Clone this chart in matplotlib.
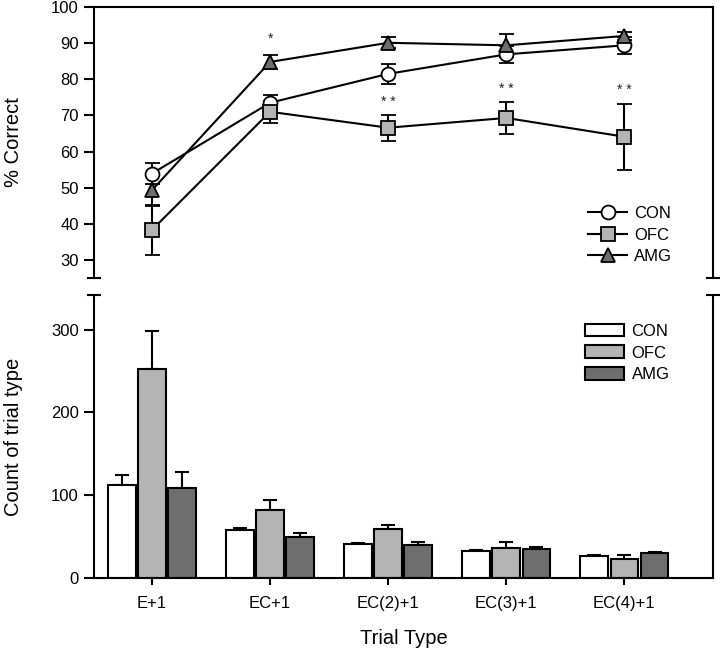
import numpy as np
import matplotlib
matplotlib.use("Agg")
import matplotlib.pyplot as plt
from matplotlib.lines import Line2D

plt.rcParams['font.family'] = ['Liberation Sans', 'DejaVu Sans']

# ---------------------------------------------------------------
# dados
trial_types = ["E+1", "EC+1", "EC(2)+1", "EC(3)+1", "EC(4)+1"]
groups = ["CON", "OFC", "AMG"]

# % correto (painel de cima)
con_pct = [53.9, 73.5, 81.5, 86.9, 89.4]
con_pct_err = [2.8, 2.1, 2.7, 2.3, 2.4]
ofc_pct = [38.3, 71.0, 66.6, 69.3, 64.1]
ofc_pct_err = [7.0, 3.1, 3.6, 4.4, 9.1]
amg_pct = [49.3, 84.8, 90.1, 89.4, 92.0]
amg_pct_err = [4.5, 2.0, 1.5, 3.2, 1.0]

# asteriscos (significancia)
star_x = [1, 2, 3, 4]
star_y = [91.2, 73.8, 77.4, 77.0]
star_txt = ["*", "* *", "* *", "* *"]

# contagem de tipos de tentativa (painel de baixo)
con_cnt = [112.6, 57.5, 40.9, 32.4, 27.1]
con_cnt_err = [11.5, 3.2, 1.6, 2.0, 1.2]
ofc_cnt = [253.0, 82.2, 58.7, 36.4, 23.1]
ofc_cnt_err = [46.0, 11.8, 5.3, 6.5, 4.9]
amg_cnt = [108.5, 49.0, 40.0, 35.2, 30.0]
amg_cnt_err = [19.5, 4.8, 2.9, 2.5, 1.2]

# ---------------------------------------------------------------
x = np.arange(len(trial_types))
xlim = (-0.49, 4.75)
lw = 1.5

fig = plt.figure(figsize=(7.2, 6.5), dpi=100)
ax1 = fig.add_axes([0.1306, 0.5723, 0.8597, 0.4169])
ax2 = fig.add_axes([0.1306, 0.1108, 0.8597, 0.4354])

# painel de cima -------------------------------------------------
styles = [
    (con_pct, con_pct_err, "o", "white", "CON"),
    (ofc_pct, ofc_pct_err, "s", "#b4b4b4", "OFC"),
    (amg_pct, amg_pct_err, "^", "#6e6e6e", "AMG"),
]
handles = []
for y, e, m, fc, lab in styles:
    ax1.errorbar(x, y, yerr=e, color="black", lw=lw, marker=m, ms=10,
                 mfc=fc, mec="black", mew=1.3, capsize=5.4, capthick=lw,
                 elinewidth=lw)
    handles.append(Line2D([], [], color="black", lw=lw, marker=m, ms=10,
                          mfc=fc, mec="black", mew=1.3, label=lab))

for xs, ys, t in zip(star_x, star_y, star_txt):
    ax1.text(xs, ys, t, ha="center", va="center", fontsize=10, color="#222222")

ax1.set_xlim(*xlim)
ax1.set_ylim(25, 100)
ax1.set_yticks(range(30, 101, 10))
ax1.set_xticks([])
ax1.spines["bottom"].set_visible(False)
ax1.set_ylabel("% Correct", fontsize=14.5)
ax1.yaxis.set_label_coords(-0.114, 0.5)
ax1.legend(handles=handles, loc="center left", bbox_to_anchor=(0.798, 0.158),
           frameon=False, fontsize=12, handlelength=2.35, handletextpad=0.4,
           borderpad=0, borderaxespad=0, labelspacing=0.39)

# painel de baixo ------------------------------------------------
bw = 0.235
off = 0.255
bar_colors = ["white", "#b4b4b4", "#6e6e6e"]
for k, (vals, errs) in enumerate([(con_cnt, con_cnt_err),
                                  (ofc_cnt, ofc_cnt_err),
                                  (amg_cnt, amg_cnt_err)]):
    xp = x + (k - 1) * off
    ax2.bar(xp, vals, width=bw, color=bar_colors[k], edgecolor="black",
            linewidth=lw, label=groups[k], zorder=2)
    ax2.errorbar(xp, vals, yerr=[np.zeros(len(vals)), errs], fmt="none",
                 ecolor="black", elinewidth=lw, capsize=4.7, capthick=lw, zorder=1)

ax2.set_xlim(*xlim)
ax2.set_ylim(0, 342)
ax2.set_yticks([0, 100, 200, 300])
ax2.set_xticks(x)
ax2.set_xticklabels(trial_types)
ax2.spines["top"].set_visible(False)
ax2.set_ylabel("Count of trial type", fontsize=14.5)
ax2.yaxis.set_label_coords(-0.114, 0.5)
ax2.set_xlabel("Trial Type", fontsize=14.5, labelpad=13)
ax2.legend(loc="center left", bbox_to_anchor=(0.793, 0.795), frameon=False,
           fontsize=12, handlelength=2.35, handleheight=0.8, handletextpad=0.45,
           borderpad=0, borderaxespad=0, labelspacing=0.4)

for ax in (ax1, ax2):
    for s in ax.spines.values():
        s.set_linewidth(lw)
    ax.tick_params(direction="out", length=7, width=lw, labelsize=12, pad=4)
ax2.tick_params(axis="x", length=5, pad=8)

# marcas de quebra do eixo
for ax, yy in ((ax1, 0), (ax2, 1)):
    ax.plot([0, 1], [yy, yy], transform=ax.transAxes, ls="none", marker="_",
            ms=9.5, mew=lw, color="black", clip_on=False)

fig.savefig("out.png", dpi=100)
